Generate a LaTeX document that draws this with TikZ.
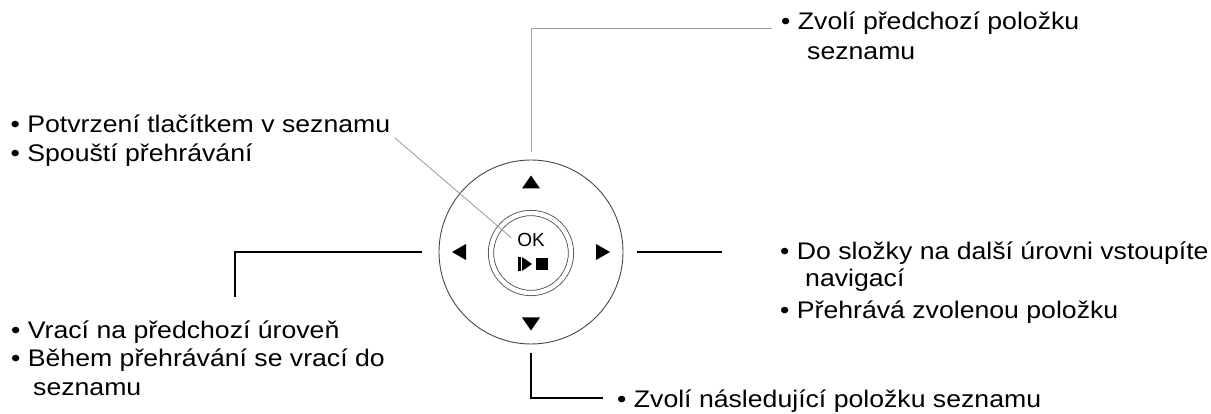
\documentclass[tikz,border=0pt]{standalone}
\usepackage{fontspec}
\setmainfont{Liberation Sans}[FakeStretch=1.11]
\newfontfamily\padfont{Liberation Sans}
\usetikzlibrary{positioning,calc}
\definecolor{RingGray}{RGB}{70,70,70}
\definecolor{LeadGray}{RGB}{160,160,160}
\colorlet{DeepInk}{black}

\begin{document}
\begin{tikzpicture}[x=1pt,y=-1pt,
    label/.style={anchor=base west,inner sep=0pt,align=left,text=DeepInk,
      font=\fontsize{24}{29}\selectfont},
    lead/.style={line width=1.1pt,DeepInk},
    softlead/.style={line width=0.9pt,LeadGray},
    arrowmark/.style={fill=DeepInk}
  ]
    \useasboundingbox (0,0) rectangle (1211,414);

    % control pad
    \node[circle,draw=RingGray,line width=0.9pt,minimum size=184pt,inner sep=0pt]
      (pad) at (531,252) {};
    \node[circle,draw=RingGray,line width=0.8pt,double,double distance=4.5pt,
      minimum size=80pt,inner sep=0pt] (okring) at (531,253) {};
    \node[inner sep=0pt,font=\padfont\fontsize{19}{19}\selectfont,text=DeepInk]
      (ok) at (531,239.5) {OK};
    \coordinate (play) at (531,264);
    \fill[arrowmark] ($(play)+(-13,-7)$) rectangle ($(play)+(-10,7)$);
    \fill[arrowmark] ($(play)+(-9,-7)$) -- ($(play)+(1,0)$) -- ($(play)+(-9,7)$) -- cycle;
    \fill[arrowmark] ($(play)+(5,-6)$) rectangle ($(play)+(17,6)$);

    % direction marks
    \coordinate (up) at (531,182);
    \coordinate (down) at (531,324);
    \coordinate (left) at (459,252);
    \coordinate (right) at (603,252);
    \fill[arrowmark] ($(up)+(-9,6.5)$) -- ($(up)+(9,6.5)$) -- ($(up)+(0,-6.5)$) -- cycle;
    \fill[arrowmark] ($(down)+(-9,-6.5)$) -- ($(down)+(9,-6.5)$) -- ($(down)+(0,6.5)$) -- cycle;
    \fill[arrowmark] ($(left)+(7,-8)$) -- ($(left)+(7,8)$) -- ($(left)+(-7,0)$) -- cycle;
    \fill[arrowmark] ($(right)+(-7,-8)$) -- ($(right)+(-7,8)$) -- ($(right)+(7,0)$) -- cycle;

    % texts (anchored on the last line)
    \node[label,font=\fontsize{24}{30}\selectfont] (prevTxt) at (781,60)
      {• Zvolí předchozí položku\\\hspace*{26pt}seznamu};
    \node[label] (confTxt) at (10.5,162)
      {• Potvrzení tlačítkem v seznamu\\• Spouští přehrávání};
    \node[label,font=\fontsize{24}{27}\selectfont] (enterTxt) at (780,319)
      {• Do složky na další úrovni vstoupíte\\\hspace*{25pt}navigací\\[5pt]%
       • Přehrává zvolenou položku};
    \node[label,font=\fontsize{24}{28.5}\selectfont] (backTxt) at (11,395)
      {• Vrací na předchozí úroveň\\• Během přehrávání se vrací do\\\hspace*{22pt}seznamu};
    \node[label] (nextTxt) at (617,407) {• Zvolí následující položku seznamu};

    % leader lines
    \coordinate (prevEnd) at (772,28);
    \coordinate (confEnd) at (395,138);
    \coordinate (enterEnd) at (722,252);
    \coordinate (backEnd) at (235,297);
    \coordinate (nextEnd) at (603,398);
    \draw[softlead] ([yshift=8pt]pad.north) |- (prevEnd);
    \draw[softlead] (confEnd) -- ([xshift=-6pt,yshift=2pt]ok.west);
    \draw[lead] ([xshift=14pt]pad.east) -- (enterEnd);
    \draw[lead] ([xshift=-17pt]pad.west) -| (backEnd);
    \draw[lead] ([yshift=-9pt]pad.south) |- (nextEnd);
  \end{tikzpicture}
\end{document}
